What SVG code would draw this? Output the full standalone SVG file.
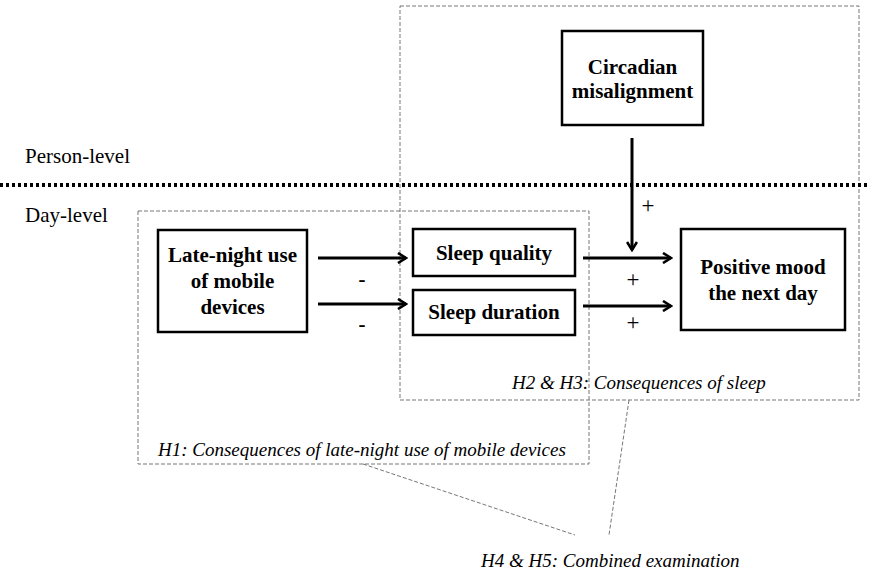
<svg xmlns="http://www.w3.org/2000/svg" width="870" height="571" viewBox="0 0 870 571">
<defs>
<marker id="ah" viewBox="0 0 12 12" refX="10" refY="6" markerWidth="12" markerHeight="12" orient="auto" markerUnits="userSpaceOnUse">
<path d="M2,1 L10,6 L2,11" fill="none" stroke="#000" stroke-width="2.6"/>
</marker>
<style>
text{font-family:'Liberation Serif','Times New Roman',serif;fill:#000}
.box{fill:#fff;stroke:#000;stroke-width:2.5}
.dash{fill:none;stroke:#777;stroke-width:1;stroke-dasharray:4,2}
.b{font-weight:bold;font-size:21px;text-anchor:middle}
.r{font-size:21px}
.i{font-style:italic;font-size:19px}
.arr{stroke:#000;stroke-width:3;fill:none;marker-end:url(#ah)}
.sg{font-size:23px;text-anchor:middle}
.mn{font-size:21px;font-weight:bold;text-anchor:middle}
</style>
</defs>
<rect width="870" height="571" fill="#fff"/>
<g id="frames">
<rect class="dash" x="400" y="6" width="459" height="394"/>
<rect class="dash" x="138" y="211" width="451" height="253"/>
<line class="dash" x1="363" y1="464" x2="575" y2="535"/>
<line class="dash" x1="629" y1="400" x2="609" y2="535"/>
</g>
<line x1="0" y1="185" x2="870" y2="185" stroke="#000" stroke-width="4" stroke-dasharray="3,3"/>
<text class="r" x="25" y="163">Person-level</text>
<text class="r" x="25" y="222">Day-level</text>
<g id="late-night">
<rect class="box" x="158" y="230" width="149" height="102"/>
<text class="b" x="232.5" y="262">Late-night use</text>
<text class="b" x="232.5" y="288">of mobile</text>
<text class="b" x="232.5" y="314">devices</text>
</g>
<g id="circadian">
<rect class="box" x="562" y="31" width="141" height="94"/>
<text class="b" x="632.5" y="74">Circadian</text>
<text class="b" x="632.5" y="98">misalignment</text>
</g>
<g id="sleep-quality">
<rect class="box" x="413" y="229" width="162" height="47"/>
<text class="b" x="494" y="260">Sleep quality</text>
</g>
<g id="sleep-duration">
<rect class="box" x="413" y="290" width="162" height="45"/>
<text class="b" x="494" y="319">Sleep duration</text>
</g>
<g id="positive-mood">
<rect class="box" x="681" y="229" width="164" height="101"/>
<text class="b" x="763" y="274">Positive mood</text>
<text class="b" x="763" y="300">the next day</text>
</g>
<g id="connectors">
<line class="arr" x1="318" y1="258" x2="406" y2="258"/>
<line class="arr" x1="318" y1="304" x2="406" y2="304"/>
<line class="arr" x1="583" y1="258" x2="671" y2="258"/>
<line class="arr" x1="583" y1="306" x2="671" y2="306"/>
<line class="arr" x1="632" y1="138" x2="632" y2="250"/>
<text class="mn" x="362" y="286">-</text>
<text class="mn" x="362" y="331">-</text>
<text class="sg" x="633" y="287">+</text>
<text class="sg" x="633" y="330">+</text>
<text class="sg" x="648" y="213">+</text>
</g>
<text class="i" x="512" y="389">H2 &amp; H3: Consequences of sleep</text>
<text class="i" x="158" y="456">H1: Consequences of late-night use of mobile devices</text>
<text class="i" x="481" y="567">H4 &amp; H5: Combined examination</text>
</svg>
